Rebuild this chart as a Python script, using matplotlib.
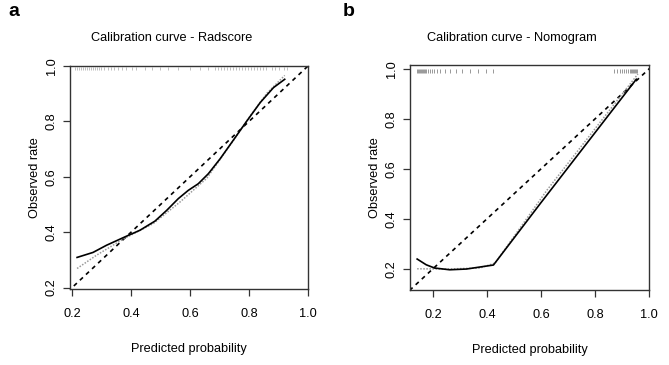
import matplotlib
matplotlib.use("Agg")
import matplotlib.pyplot as plt

plt.rcParams['font.family'] = ['Liberation Sans', 'DejaVu Sans']

# ---- Panel a: Radscore ----
a_pred = [0.217, 0.271, 0.317, 0.379, 0.430, 0.481, 0.521, 0.560, 0.594, 0.628,
          0.662, 0.702, 0.742, 0.793, 0.838, 0.883, 0.921]
a_bias = [0.309, 0.327, 0.353, 0.383, 0.407, 0.440, 0.479, 0.521, 0.551, 0.575,
          0.611, 0.665, 0.725, 0.802, 0.868, 0.922, 0.952]
a_app_pred = [0.217, 0.283, 0.373, 0.475, 0.566, 0.657, 0.747, 0.804, 0.861, 0.921]
a_app = [0.269, 0.317, 0.375, 0.431, 0.509, 0.595, 0.731, 0.820, 0.902, 0.966]
a_rug = [0.210, 0.217, 0.224, 0.231, 0.237, 0.244, 0.251, 0.258, 0.264, 0.271,
         0.278, 0.285, 0.292, 0.298, 0.308, 0.322, 0.332, 0.342, 0.356, 0.369,
         0.383, 0.403, 0.417, 0.447, 0.471, 0.498, 0.525, 0.559, 0.600, 0.634,
         0.661, 0.685, 0.695, 0.705, 0.715, 0.725, 0.736, 0.746, 0.756, 0.766,
         0.776, 0.786, 0.797, 0.807, 0.817, 0.827, 0.837, 0.847, 0.858, 0.878,
         0.888, 0.902, 0.919, 0.929]

# ---- Panel b: Nomogram ----
b_pred = [0.1415, 0.175, 0.206, 0.262, 0.324, 0.374, 0.424, 0.598, 0.953]
b_bias = [0.239, 0.216, 0.203, 0.196, 0.199, 0.207, 0.215, 0.462, 0.959]
b_app_pred = [0.1415, 0.25, 0.374, 0.43, 0.623, 0.959]
b_app = [0.200, 0.199, 0.203, 0.223, 0.516, 0.980]
b_rug = [0.141, 0.144, 0.148, 0.152, 0.155, 0.159, 0.163, 0.167, 0.170, 0.174,
         0.181, 0.189, 0.196, 0.204, 0.215, 0.226, 0.245, 0.263, 0.285, 0.308,
         0.338, 0.367, 0.397, 0.423,
         0.869, 0.880, 0.891, 0.899, 0.906, 0.914, 0.921, 0.929, 0.932, 0.936,
         0.940, 0.943, 0.947, 0.951, 0.955]

ticks = [0.2, 0.4, 0.6, 0.8, 1.0]
tick_labels = ["0.2", "0.4", "0.6", "0.8", "1.0"]
titles = ["Calibration curve - Radscore", "Calibration curve - Nomogram"]
panel_letters = ["a", "b"]

fig = plt.figure(figsize=(6.69, 3.65), dpi=100)
W, H = 669, 365

def px_axes(l, t, r, b):
    return fig.add_axes([l / W, 1 - b / H, (r - l) / W, (b - t) / H])

ax_a = px_axes(70, 66, 308, 289)
ax_b = px_axes(410, 65, 649, 290)

panels = [
    (ax_a, a_pred, a_bias, a_app_pred, a_app, a_rug, (0.193, 1.0), (0.195, 1.0), '#b5b5b5'),
    (ax_b, b_pred, b_bias, b_app_pred, b_app, b_rug, (0.115, 1.0), (0.115, 1.016), '#888888'),
]

fs = 9.2
for ax, xp, yb, xa, ya, rug, xl, yl, rc in panels:
    ax.plot([0, 1.2], [0, 1.2], color='black', lw=1.2, ls=(0, (2.5, 2.5)))
    ax.plot(xa, ya, color='#9a9a9a', lw=1.1, ls=(0, (1, 1)))
    ax.plot(xp, yb, color='black', lw=1.2)
    ax.vlines(rug, 0.984, 0.998, color=rc, lw=0.6)
    ax.set_xlim(*xl)
    ax.set_ylim(*yl)
    ax.set_xticks(ticks)
    ax.set_xticklabels(tick_labels, fontsize=fs)
    ax.set_yticks(ticks)
    ax.set_yticklabels(tick_labels, fontsize=fs, rotation=90, va='center')
    ax.tick_params(direction='out', length=5, width=0.9, color='#333333')
    ax.tick_params(axis='x', pad=9)
    ax.tick_params(axis='y', pad=4)
    for s in ax.spines.values():
        s.set_color('#333333')
        s.set_linewidth(1.0)
    ax.set_xlabel("Predicted probability", fontsize=fs, labelpad=16)
    ax.set_ylabel("Observed rate", fontsize=fs, labelpad=3)

fig.text(172 / W, 1 - 38 / H, titles[0], ha='center', va='center', fontsize=fs)
fig.text(512 / W, 1 - 38 / H, titles[1], ha='center', va='center', fontsize=fs)
fig.text(8 / W, 1 - 12 / H, panel_letters[0], ha='left', va='center', fontsize=14, fontweight='bold')
fig.text(343 / W, 1 - 12 / H, panel_letters[1], ha='left', va='center', fontsize=14, fontweight='bold')

fig.savefig("out.png", dpi=100)
